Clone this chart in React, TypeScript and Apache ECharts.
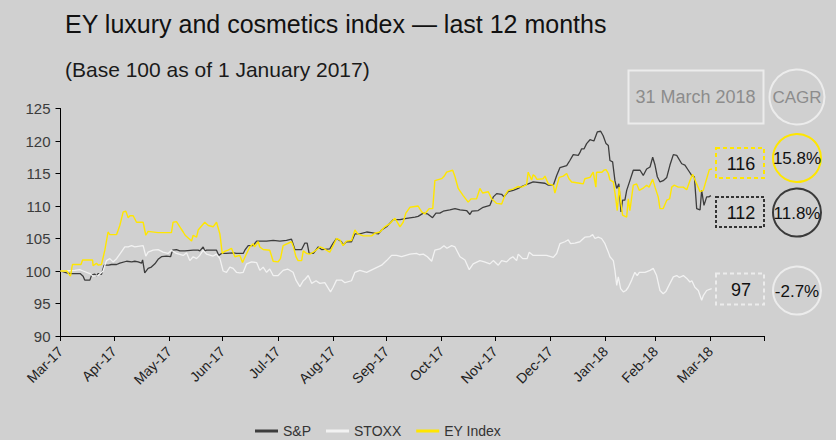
import React, { useEffect, useRef } from "react";
import * as echarts from "echarts";

// Days since 31 March 2017 for month-end ticks
const tickDays = [0, 30, 61, 91, 122, 153, 183, 214, 244, 275, 306, 334, 365, 395];
const tickLabels = [
  "Mar-17", "Apr-17", "May-17", "Jun-17", "Jul-17", "Aug-17", "Sep-17",
  "Oct-17", "Nov-17", "Dec-17", "Jan-18", "Feb-18", "Mar-18",
];
const yTicks = { min: 90, max: 125, step: 5 };

const seriesNames = ["S&P", "STOXX", "EY Index"];

const spData: [number, number][] = [
  [0, 100], [3.5, 99.7], [5.6, 99.6], [11, 99.6], [12.7, 99.2], [13.6, 98.6], [16.5, 98.6], [17.5, 99.4],
  [19.3, 99.5], [20.2, 99.2], [21.1, 99.6], [23, 99.5], [24.5, 100.9], [27, 100.9], [28.6, 101.0], [31.5, 101.0],
  [33.3, 101.2], [37.1, 101.5], [40, 101.4], [41.7, 101.5], [43.6, 101.4], [45.5, 101.2], [46.1, 101.7], [47.3, 99.7],
  [49.2, 100.4], [51, 100.6], [53, 101.1], [54.8, 101.8], [56.7, 102.2], [59.5, 102.3], [61.8, 102.2], [62.9, 103.2],
  [65.1, 103.3], [67, 103.1], [69.8, 103.1], [74.5, 103.2], [77.3, 103.2], [78.2, 103.1], [80.1, 103.7], [81, 103.1],
  [82, 103.2], [87.6, 103.2], [88.9, 102.4], [90.4, 102.7], [93, 102.7], [96.9, 102.8], [98.8, 102.7], [102.6, 102.7],
  [103.5, 103.2], [105.4, 103.9], [108.2, 103.9], [110.1, 104.6], [115.7, 104.6], [119.4, 104.7], [123.2, 104.6],
  [126.9, 104.7], [129.7, 104.9], [131.6, 103.3], [135.4, 103.3], [137.2, 104.3], [138.5, 104.3], [139.6, 102.7],
  [142, 102.7], [144.7, 103.7], [146.6, 103.3], [151.2, 103.4], [153.1, 104.3], [155, 105.0], [157.8, 104.5],
  [158.7, 104.0], [160.6, 104.5], [163.4, 104.5], [165.3, 105.7], [168.1, 105.7], [171.9, 106.0], [174.5, 105.9],
  [178.4, 105.7], [180.3, 106.3], [183.1, 106.8], [186.8, 107.9], [190.6, 107.9], [194.3, 108.1], [199, 108.3],
  [200.8, 108.4], [203.7, 108.9], [206, 108.8], [208.9, 108.2], [210.8, 108.9], [213, 108.9], [214.9, 109.2],
  [218.6, 109.4], [221.5, 109.6], [224.3, 109.4], [228, 109.3], [229.9, 108.7], [231, 109.2], [234.5, 109.3],
  [237.3, 109.8], [241.1, 110.1], [243, 111.4], [244.9, 111.9], [247.7, 111.8], [249, 111.4], [251.4, 112.2],
  [254.2, 112.4], [257, 112.7], [258.9, 113.0], [262.6, 113.4], [265.4, 113.7], [272, 113.5], [273.9, 113.2],
  [276.7, 113.2], [278.6, 114.7], [280.4, 115.9], [284.2, 116.2], [286, 117.0], [287.9, 117.9], [290.7, 117.8],
  [291.6, 118.2], [292.6, 118.8], [294, 118.8], [295.4, 119.6], [297.3, 120.2], [299.5, 120.0], [301.4, 121.4],
  [303.3, 121.5], [304.7, 120.8], [306.3, 119.6], [307.6, 119.3], [308.5, 117.0], [310, 116.8], [311.3, 113.9],
  [312.3, 112.7], [313.5, 113.4], [314.7, 109.1], [315.6, 110.9], [316.9, 110.9], [317.9, 112.4], [319.7, 113.9],
  [321.6, 115.5], [325.4, 115.5], [327.2, 114.7], [329.1, 115.7], [331, 116.0], [332.5, 117.5], [333.8, 116.3],
  [335.1, 114.5], [336.6, 113.7], [338.4, 113.9], [340.4, 114.4], [342.2, 116.3], [344.1, 117.9], [346, 117.8],
  [348.8, 116.5], [350.6, 116.3], [352.5, 115.5], [354.4, 114.7], [355.9, 114.5], [357.2, 109.6], [359.1, 109.4],
  [360, 112.4], [361.3, 110.1], [362.8, 111.4], [364, 111.4], [365.2, 111.6],
];

const stoxxData: [number, number][] = [
  [0, 100], [8, 100.1], [10.8, 100.2], [12.7, 100.0], [16.5, 99.6], [18.3, 99.2], [21.1, 99.3], [23.9, 100.0],
  [25.8, 101.6], [27.7, 101.9], [29.5, 101.4], [31.5, 101.9], [33.3, 102.6], [36.1, 103.7], [38, 103.7],
  [39.9, 103.9], [41.7, 103.7], [43.6, 103.8], [46.4, 103.9], [47.9, 102.3], [49.2, 102.9], [52, 103.2],
  [54.8, 103.3], [57.6, 102.9], [60.4, 102.7], [62.3, 103.2], [65.1, 102.7], [68.9, 102.4], [70.8, 102.8],
  [72.6, 101.6], [74.5, 102.2], [76.4, 101.9], [78.2, 102.4], [80.1, 103.2], [82, 102.6], [85.7, 102.3],
  [87.6, 102.6], [89.5, 101.9], [91.3, 100.0], [93.2, 99.8], [95.1, 100.6], [96.9, 100.4], [98.8, 99.8],
  [100.7, 99.7], [102.6, 99.8], [104.5, 101.1], [107.3, 101.4], [110.1, 101.3], [111.9, 100.1], [113.8, 100.6],
  [115.7, 99.8], [117.5, 100.3], [119.4, 99.3], [122.2, 99.3], [125, 100.1], [127.5, 100.3], [130.6, 99.8],
  [132.2, 98.6], [134.4, 97.6], [136.3, 98.5], [137.2, 98.7], [139.1, 99.3], [141, 98.1], [143.5, 98.5],
  [145.6, 98.1], [148.4, 98.2], [151.6, 96.8], [153.1, 97.5], [155, 98.6], [157.8, 98.6], [159.7, 98.2],
  [163.4, 98.5], [165.3, 99.8], [168.1, 100.1], [171.9, 99.8], [176.5, 100.4], [180.3, 100.9], [183.1, 101.6],
  [185.9, 102.4], [188.7, 102.4], [191.5, 102.2], [196.2, 102.6], [199.9, 102.7], [201.5, 102.5], [203.7, 102.6],
  [206, 102.2], [208.4, 101.5], [210.2, 103.2], [213, 103.4], [215.3, 103.9], [217, 103.5], [219.6, 103.9],
  [221.5, 103.7], [224.3, 102.2], [227.1, 101.7], [229.5, 100.2], [231.7, 101.1], [235.5, 101.6], [238, 101.4],
  [241.1, 101.1], [243, 101.6], [245.8, 100.9], [247.7, 101.6], [250.5, 101.4], [252.3, 101.9], [254, 102.2],
  [256.1, 101.6], [257, 102.6], [259.5, 101.9], [262, 101.9], [263.2, 102.9], [265.4, 102.4], [272.9, 102.4],
  [276.7, 102.1], [278.6, 102.7], [280.4, 104.2], [283.2, 104.5], [285.1, 104.8], [286.4, 104.2], [288.8, 104.3],
  [291.6, 104.5], [294.4, 105.2], [297.3, 105.3], [298.8, 105.6], [300.1, 105.0], [301.9, 105.2], [303.8, 105.0],
  [305.7, 104.2], [307.6, 102.9], [308.5, 102.2], [310.4, 101.6], [311.3, 100.1], [312.3, 97.8], [313.2, 99.1],
  [314.5, 97.3], [316, 96.8], [317.5, 97.0], [318.8, 97.5], [320.7, 98.6], [322.5, 99.8], [323.8, 99.3],
  [325, 99.8], [328.2, 99.8], [331, 100.1], [332.8, 100.4], [334.7, 99.3], [336.6, 97.0], [338.4, 96.5],
  [340, 96.9], [342.2, 98.1], [344.1, 99.1], [346, 99.3], [347.5, 99.0], [349.7, 99.3], [351.5, 98.9],
  [353.4, 98.3], [354.5, 98.5], [356.2, 97.5], [358.1, 97.0], [360, 95.5], [360.9, 96.2], [362.8, 97.0],
  [365.6, 97.3],
];

const eyData: [number, number][] = [
  [0, 100], [3.5, 100], [5.6, 99.2], [6.7, 101.0], [11.5, 101.0], [12.4, 101.7], [18, 101.7], [18.3, 100.8],
  [20.2, 101.2], [21.1, 100.9], [23, 101.0], [24.9, 103.2], [26.7, 106.0], [27.7, 105.6], [31.5, 105.6],
  [33.3, 107.0], [35.2, 109.1], [36.7, 109.2], [38, 108.2], [39, 108.5], [40.8, 108.5], [42.7, 107.5],
  [46.4, 107.5], [47.9, 105.5], [49.2, 106.1], [54.8, 105.9], [62.3, 105.9], [63.2, 107.5], [65.1, 107.6],
  [67, 106.8], [68.9, 106.0], [70, 105.5], [73.6, 104.6], [74.5, 105.5], [76.4, 105.2], [77.3, 106.3],
  [81, 107.5], [83, 107.0], [85.7, 106.8], [87.6, 107.5], [89.5, 105.7], [90.8, 102.7], [92, 103.0],
  [94.1, 103.2], [96, 103.5], [97.9, 102.2], [100.7, 102.4], [102.2, 101.3], [104.5, 102.7], [106.3, 103.7],
  [108.2, 104.2], [109, 103.7], [111, 104.5], [111.9, 103.7], [113.8, 103.3], [117.5, 103.2], [119.4, 101.5],
  [122.2, 101.4], [123.5, 101.9], [125, 103.9], [129.7, 104.5], [130.8, 103.7], [132.2, 102.2], [133.4, 101.6],
  [135.4, 101.6], [136.3, 103.1], [138.2, 102.7], [140, 102.6], [142.5, 103.0], [145.6, 103.7], [147.5, 103.5],
  [151.2, 102.9], [153.1, 103.9], [155, 105.0], [156.8, 104.8], [158.7, 103.9], [160.6, 104.6], [163.4, 104.7],
  [165.3, 106.3], [167, 105.7], [170, 105.4], [174.7, 105.4], [176.5, 105.8], [179.3, 106.0], [182.1, 106.8],
  [184.9, 107.3], [187.8, 108.1], [189.6, 107.3], [190.6, 106.8], [192.4, 107.5], [193.9, 108.9], [196.2, 109.8],
  [200.8, 110.0], [202.8, 109.1], [204.6, 108.8], [207, 109.6], [209, 109.6], [210.2, 113.9], [214, 114.2],
  [215.5, 114.6], [216.8, 115.2], [220.2, 115.5], [221.5, 114.5], [223.3, 112.7], [226.1, 111.6], [228.9, 110.6],
  [230.5, 111.1], [233.6, 111.1], [235.5, 112.7], [237, 112.0], [240.2, 112.2], [242.1, 111.1], [244.9, 110.4],
  [247.7, 110.3], [249.5, 111.6], [251.4, 112.4], [254, 112.6], [257, 113.0], [259, 112.9], [261.7, 113.3],
  [262.6, 115.2], [264.5, 114.0], [265.4, 114.8], [266.4, 114.6], [267.5, 114.1], [271, 114.2], [272, 114.6],
  [273.9, 113.4], [276.7, 113.2], [277.6, 112.0], [280, 114.4], [282.3, 114.6], [284.2, 115.0], [285.5, 114.2],
  [287, 113.7], [291.6, 113.5], [293.5, 113.4], [294.4, 114.2], [297.3, 114.4], [299.1, 115.2], [300.6, 112.9],
  [301, 115.2], [304, 115.2], [305.1, 115.5], [306.3, 115.6], [307.6, 115.0], [308.5, 114.0], [310.4, 113.7],
  [311.9, 110.9], [312.6, 109.3], [313.7, 112.9], [314.7, 110.4], [315.6, 108.6], [317.9, 108.3], [318.8, 111.1],
  [319.7, 109.3], [321.6, 113.2], [323.5, 113.4], [325, 112.4], [326.9, 112.7], [329.1, 113.2], [330.5, 112.9],
  [332.5, 114.1], [333.8, 112.9], [335.6, 111.4], [336.6, 109.6], [338.4, 109.6], [340.4, 110.9], [342, 111.1],
  [343.2, 112.9], [344.5, 113.2], [346.9, 112.9], [349.7, 112.9], [351.6, 112.5], [353.4, 113.9], [354.9, 114.9],
  [357.2, 113.4], [359.1, 112.2], [360.9, 112.4], [362.8, 114.2], [364.3, 115.6], [365.8, 115.7],
];

const titleText = "EY luxury and cosmetics index \u2014 last 12 months";
const subtitleText = "(Base 100 as of 1 January 2017)";
const dateLabel = "31 March 2018";
const cagrLabel = "CAGR";
// order: EY Index, S&P, STOXX
const lastValues = ["116", "112", "97"];
const cagrValues = ["15.8%", "11.8%", "-2.7%"];

const FONT = "'Liberation Sans', Arial, sans-serif";
const BG = "#d0d0d0";
const C_SP = "#3d3d3d";
const C_STOXX = "#f2f2f2";
const C_EY = "#ffe600";

export default function App() {
  const ref = useRef<HTMLDivElement>(null);

  useEffect(() => {
    if (!ref.current) return;
    const chart = echarts.init(ref.current, undefined, { renderer: "svg" });

    const boxes = [
      { y: 148, h: 30, stroke: C_EY, dash: [4, 3], circleY: 158, circleStroke: C_EY },
      { y: 197, h: 30, stroke: "#333333", dash: [3, 2], circleY: 212.5, circleStroke: "#3a3a3a" },
      { y: 273.5, h: 31, stroke: "#ececec", dash: [4, 3], circleY: 290.5, circleStroke: "#ececec" },
    ];

    const graphics: any[] = [
      {
        type: "rect",
        shape: { x: 628.5, y: 70.5, width: 135, height: 53 },
        style: { fill: "none", stroke: "#ececec", lineWidth: 2 },
      },
      {
        type: "text",
        x: 695.5,
        y: 97,
        style: { text: dateLabel, font: `18px ${FONT}`, fill: "#8c8c8c", align: "center", verticalAlign: "middle" },
      },
      {
        type: "circle",
        shape: { cx: 797, cy: 97, r: 27.5 },
        style: { fill: "none", stroke: "#ececec", lineWidth: 2 },
      },
      {
        type: "text",
        x: 797,
        y: 97.5,
        style: { text: cagrLabel, font: `17px ${FONT}`, fill: "#8c8c8c", align: "center", verticalAlign: "middle" },
      },
    ];
    boxes.forEach((b, i) => {
      graphics.push({
        type: "rect",
        shape: { x: 716, y: b.y, width: 48, height: b.h },
        style: { fill: "none", stroke: b.stroke, lineWidth: 2, lineDash: b.dash },
      });
      graphics.push({
        type: "text",
        x: 741,
        y: b.y + b.h / 2 + 1,
        style: { text: lastValues[i], font: `18px ${FONT}`, fill: "#111", align: "center", verticalAlign: "middle" },
      });
      graphics.push({
        type: "circle",
        shape: { cx: 797, cy: b.circleY, r: 24 },
        style: { fill: "none", stroke: b.circleStroke, lineWidth: 2 },
      });
      graphics.push({
        type: "text",
        x: 797,
        y: b.circleY + 0.5,
        style: { text: cagrValues[i], font: `17px ${FONT}`, fill: "#111", align: "center", verticalAlign: "middle" },
      });
    });

    const labelDays = tickDays.slice(0, tickLabels.length);

    chart.setOption({
      animation: false,
      backgroundColor: BG,
      textStyle: { fontFamily: FONT },
      title: [
        {
          text: titleText,
          left: 60,
          top: 6,
          textStyle: { fontFamily: FONT, fontSize: 25, fontWeight: "normal", color: "#111" },
        },
        {
          text: subtitleText,
          left: 60,
          top: 54,
          textStyle: { fontFamily: FONT, fontSize: 21, fontWeight: "normal", color: "#1a1a1a" },
        },
      ],
      legend: {
        left: 250,
        top: 419,
        icon: "rect",
        itemWidth: 23,
        itemHeight: 3,
        itemGap: 15,
        data: seriesNames,
        textStyle: { fontFamily: FONT, fontSize: 14, color: "#333" },
      },
      grid: { left: 60.5, right: 72, top: 108.5, bottom: 104, containLabel: false },
      xAxis: {
        type: "value",
        min: tickDays[0],
        max: tickDays[tickDays.length - 1],
        axisLine: { show: true, lineStyle: { color: "#000", width: 1 } },
        axisTick: { show: true, length: 5, customValues: tickDays, lineStyle: { color: "#000" } },
        axisLabel: {
          customValues: labelDays,
          rotate: 45,
          margin: 13,
          fontSize: 14,
          color: "#222",
          fontFamily: FONT,
          formatter: (v: number) => {
            const i = tickDays.indexOf(v);
            return i >= 0 && i < tickLabels.length ? tickLabels[i] : "";
          },
        },
        splitLine: { show: false },
      },
      yAxis: {
        type: "value",
        min: yTicks.min,
        max: yTicks.max,
        interval: yTicks.step,
        axisLine: { show: true, lineStyle: { color: "#000", width: 1 } },
        axisTick: { show: true, length: 5, lineStyle: { color: "#000" } },
        axisLabel: { fontSize: 15, color: "#3c3c3c", margin: 10, fontFamily: FONT },
        splitLine: { show: false },
      },
      series: [
        {
          name: seriesNames[0],
          type: "line",
          data: spData,
          showSymbol: false,
          symbol: "none",
          lineStyle: { color: C_SP, width: 1.3 },
          itemStyle: { color: C_SP },
        },
        {
          name: seriesNames[1],
          type: "line",
          data: stoxxData,
          showSymbol: false,
          symbol: "none",
          lineStyle: { color: C_STOXX, width: 1.3 },
          itemStyle: { color: C_STOXX },
        },
        {
          name: seriesNames[2],
          type: "line",
          data: eyData,
          showSymbol: false,
          symbol: "none",
          lineStyle: { color: C_EY, width: 1.4 },
          itemStyle: { color: C_EY },
        },
      ],
      graphic: graphics,
    });

    return () => chart.dispose();
  }, []);

  return (
    <div
      style={{ position: "fixed", left: 0, top: 0, width: 836, height: 440, background: BG }}
    >
      <div ref={ref} style={{ width: 836, height: 440 }} />
    </div>
  );
}
